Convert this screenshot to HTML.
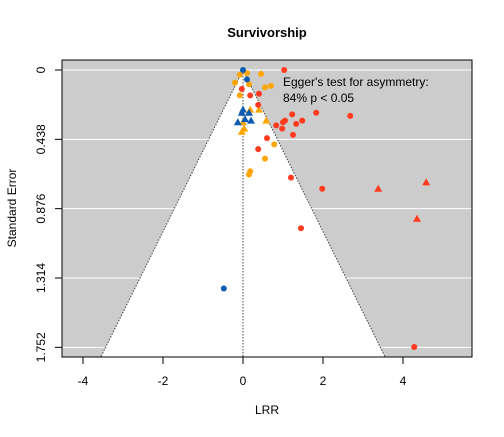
<!DOCTYPE html>
<html><head><meta charset="utf-8"><style>
body{margin:0;background:#fff;}
svg text{font-family:"Liberation Sans",Arial,sans-serif;}
</style></head><body>
<svg width="504" height="432" viewBox="0 0 504 432" xmlns="http://www.w3.org/2000/svg">
<defs><clipPath id="pc"><rect x="62" y="60" width="410" height="297"/></clipPath></defs>
<g id="plot" clip-path="url(#pc)"></g>
<g id="axes"></g>
</svg>
<script>
const redCircles=[[1.03,0],[1.83,0.27],[2.68,0.29],[1.23,0.28],[1.05,0.32],[1.0,0.33],[0.83,0.35],[0.98,0.37],[1.33,0.34],[1.48,0.32],[1.25,0.41],[0.6,0.43],[0.38,0.50],[1.2,0.68],[1.98,0.75],[-0.03,0.12],[0.18,0.16],[0.4,0.15],[0.38,0.22],[1.45,1.0],[4.28,1.75]];
const redTriangles=[[3.38,0.75],[4.58,0.71],[4.35,0.94]];
const orangeCircles=[[0.45,0.025],[-0.2,0.08],[0.15,0.09],[0.55,0.11],[0.7,0.10],[-0.08,0.16],[0.78,0.47],[0.55,0.56],[0.18,0.64],[0.15,0.66],[0.1,0.02],[-0.08,0.03]];
const orangeTriangles=[[0.4,0.25],[0.58,0.32],[-0.03,0.39],[0,0.33],[0.18,0.25],[0.03,0.37]];
const blueCircles=[[0,0],[0.1,0.06],[-0.48,1.38]];
const blueTriangles=[[0,0.25],[-0.03,0.27],[0.15,0.27],[-0.13,0.33],[0.2,0.32],[0.05,0.31]];
const xTicks=[-4,-2,0,2,4];
const yTicks=[0,0.438,0.876,1.314,1.752];
const NS="http://www.w3.org/2000/svg";
const X=v=>243+v*40, Y=v=>70+v*158.3;
const plot=document.getElementById('plot'), axes=document.getElementById('axes');
function mk(t,a,p){const e=document.createElementNS(NS,t);for(const k in a)e.setAttribute(k,a[k]);(p||plot).appendChild(e);return e;}
let bg=mk('rect',{x:62,y:60,width:410,height:297,fill:'#cccccc'});


yTicks.forEach(t=>{let l=mk('line',{x1:62,x2:472,y1:Y(t),y2:Y(t),stroke:'#fff','stroke-width':1});

});
const seMax=(357-70)/158.3;
let f=mk('polygon',{points:`${X(0)},${Y(0)} ${X(-1.96*seMax)},${Y(seMax)} ${X(1.96*seMax)},${Y(seMax)}`,fill:'#fff'});


[-1,1].forEach(s=>{let l=mk('line',{x1:X(0),y1:Y(0),x2:X(s*1.96*seMax),y2:Y(seMax),stroke:'#444','stroke-dasharray':'1.5,1.5'});

});
let c0=mk('line',{x1:X(0),y1:Y(0),x2:X(0),y2:357,stroke:'#444','stroke-dasharray':'1.5,1.5'});


function circles(d,col,n){d.forEach(p=>{let c=mk('circle',{cx:X(p[0]),cy:Y(p[1]),r:3,fill:col});

});}
function tris(d,col,n){d.forEach(p=>{const x=X(p[0]),y=Y(p[1]);let t=mk('polygon',{points:`${x},${y-4} ${x-4},${y+3} ${x+4},${y+3}`,fill:col});

});}
circles(orangeCircles,'#ffa500','orange-point');tris(orangeTriangles,'#ffa500','orange-triangle');
circles(redCircles,'#ff3a1e','red-point');tris(redTriangles,'#ff3a1e','red-triangle');
circles(blueCircles,'#0d5cb0','blue-point');tris(blueTriangles,'#0d5cb0','blue-triangle');
let bd=mk('rect',{x:62,y:60,width:410,height:297,fill:'none',stroke:'#000'},axes);


xTicks.forEach(t=>{mk('line',{x1:X(t),x2:X(t),y1:357,y2:364,stroke:'#000'},axes);
let tx=mk('text',{x:X(t),y:385,'font-size':12,'text-anchor':'middle'},axes);tx.textContent=t;

});
yTicks.forEach(t=>{mk('line',{x1:55,x2:62,y1:Y(t),y2:Y(t),stroke:'#000'},axes);
let tx=mk('text',{x:0,y:0,'font-size':12,'text-anchor':'middle',transform:`translate(45,${Y(t)}) rotate(-90)`},axes);tx.textContent=t;

});
function txt(s,a,n){let t=mk('text',a,axes);t.textContent=s;

}
txt('Survivorship',{x:267,y:37,'font-size':13,'font-weight':'bold','text-anchor':'middle'},'chart-title');
txt('LRR',{x:267,y:414,'font-size':12,'text-anchor':'middle'},'x-axis-title');
txt('Standard Error',{x:0,y:0,'font-size':12,'text-anchor':'middle',transform:'translate(16,208) rotate(-90)'},'y-axis-title');
txt("Egger's test for asymmetry:",{x:283,y:86,'font-size':12},'egger-label');
txt('84% p < 0.05',{x:283,y:102,'font-size':12},'egger-value');
</script>
</body></html>
